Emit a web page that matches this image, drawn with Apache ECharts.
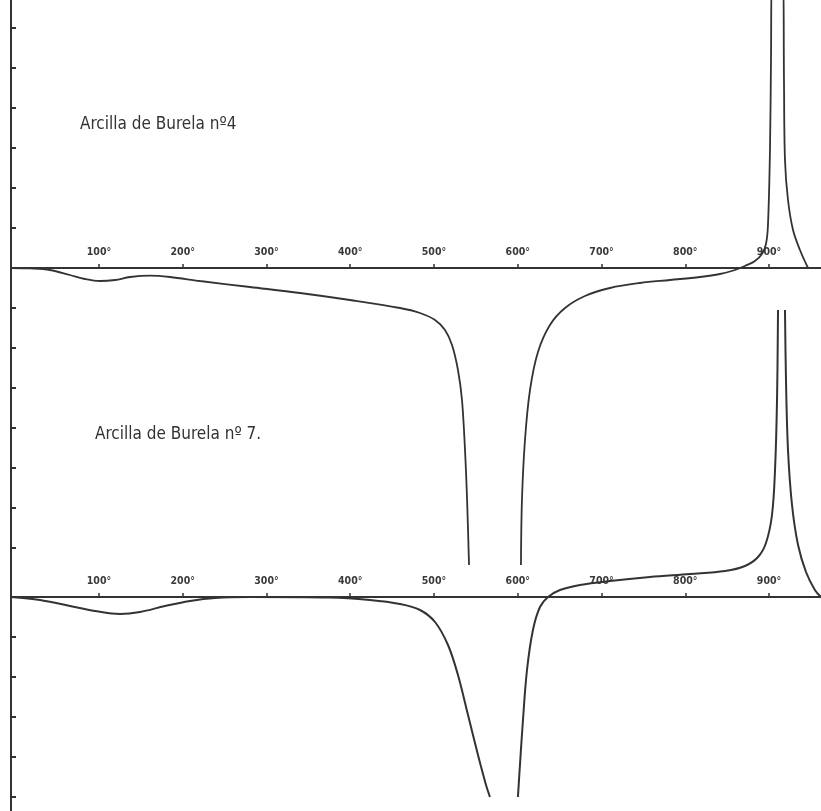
<!DOCTYPE html>
<html>
<head>
<meta charset="utf-8">
<script src="https://cdn.jsdelivr.net/npm/echarts@6/dist/echarts.min.js"></script>
<style>html,body{margin:0;padding:0;background:#fff}#c{width:821px;height:811px}</style>
</head>
<body>
<div id="c"></div>
<script>
// Temperature ticks (°C)
var tempTicks = [100, 200, 300, 400, 500, 600, 700, 800, 900];
// Left-axis ticks (arbitrary deflection units)
var topYTicks = [-7, -6, -5, -4, -3, -2, -1, 1, 2, 3, 4, 5, 6];
var bottomYTicks = [-5, -4, -3, -2, -1];

var titleTop = 'Arcilla de Burela nº4';
var titleBottom = 'Arcilla de Burela nº 7.';

// Curve 1: Arcilla de Burela nº4  [temperature, deflection]
var curve4a = [
  [-5, 0], [17.7, -0.01], [41.6, -0.05], [65.4, -0.175], [83.3, -0.275], [101.2, -0.325],
  [119.2, -0.3], [137.1, -0.225], [161, -0.19], [184.8, -0.225], [220.6, -0.325],
  [280.3, -0.475], [340, -0.625], [399.7, -0.8], [459.4, -1.0], [483.3, -1.125],
  [501.2, -1.3], [513.1, -1.55], [521.5, -1.925], [528.6, -2.55], [533.4, -3.3],
  [537, -4.55], [539.5, -5.8], [541.8, -7.425]
];
var curve4b = [
  [603.8, -7.425], [605, -5.8], [608.6, -4.3], [614.6, -3.05], [624.1, -2.1],
  [638.4, -1.425], [656.4, -1.0], [680.2, -0.7], [710.1, -0.5], [745.9, -0.375],
  [781.7, -0.3], [817.5, -0.225], [841.4, -0.15], [859.3, -0.05], [871.2, 0.05],
  [883.2, 0.175], [891.5, 0.35], [896.3, 0.6], [898.7, 1.075], [901.1, 2.95],
  [902.3, 5.2], [903.5, 7.4], [916.6, 7.4], [917.8, 4.7], [919, 2.7], [922.6, 1.7],
  [928.6, 0.95], [936.9, 0.45], [946.5, 0]
];
// Curve 2: Arcilla de Burela nº 7
var curve7a = [
  [-5, 0], [29.6, -0.075], [65.4, -0.225], [95.3, -0.35], [125.1, -0.425], [149, -0.375],
  [178.8, -0.225], [208.7, -0.1], [238.5, -0.025], [280.3, 0], [375.8, -0.0125],
  [423.6, -0.075], [459.4, -0.175], [483.3, -0.325], [501.2, -0.625], [516.7, -1.2],
  [528.6, -1.95], [540.6, -2.95], [552.5, -3.95], [562.1, -4.7], [566.8, -5.0]
];
var curve7b = [
  [600.2, -5.0], [602.6, -4.2], [606.2, -3.075], [611, -1.825], [618.1, -0.825],
  [626.5, -0.25], [636.1, 0], [650.4, 0.175], [674.3, 0.3], [710.1, 0.4], [757.8, 0.5],
  [805.6, 0.575], [847.4, 0.65], [871.2, 0.775], [886.8, 1.0], [896.3, 1.35],
  [903.5, 2.05], [907.1, 3.175], [909.5, 4.925], [910.7, 7.175]
];
var curve7c = [
  [919, 7.175], [920.2, 5.425], [922.6, 3.675], [927.4, 2.3], [934.6, 1.3],
  [944.1, 0.625], [954.7, 0.175], [962, 0]
];

var ink = '#333333';
var H = 811, base1 = 268, base2 = 597, unit = 40;
var titleFont = "'DejaVu Sans Condensed', 'Liberation Sans Narrow', 'DejaVu Sans', sans-serif";
var chart = echarts.init(document.getElementById('c'), null, {renderer: 'canvas'});

function xCurve(idx) {
  return {gridIndex: idx, type: 'value', min: -5, max: 962, show: false};
}
function xBase(idx) {
  return {
    gridIndex: idx, type: 'value', min: -5, max: 962, position: 'bottom',
    axisLine: {show: true, onZero: false, lineStyle: {color: ink, width: 2}},
    axisTick: {show: true, inside: true, length: 4, customValues: tempTicks, lineStyle: {color: ink, width: 1.5}},
    axisLabel: {show: true, inside: true, margin: 10, customValues: tempTicks,
      formatter: function (v) { return v + '°'; },
      color: '#3a3a3a', fontSize: 10.5, fontWeight: 'bold', fontFamily: titleFont},
    splitLine: {show: false}
  };
}
function yAx(idx, min, max, ticks, showLine) {
  return {
    gridIndex: idx, type: 'value', min: min, max: max,
    axisLine: {show: showLine, onZero: false, lineStyle: {color: ink, width: 2}},
    axisTick: {show: ticks.length > 0, inside: true, length: 5, customValues: ticks, lineStyle: {color: ink, width: 2}},
    axisLabel: {show: false},
    splitLine: {show: false}
  };
}
function seg(data, xi, w) {
  return {
    type: 'line', xAxisIndex: xi, yAxisIndex: xi, data: data, showSymbol: false,
    smooth: 0.35, clip: true, silent: true,
    lineStyle: {color: ink, width: w}
  };
}

chart.setOption({
  backgroundColor: '#fff',
  animation: false,
  title: [
    {text: titleTop, left: 75, top: 111, textStyle: {color: '#333', fontSize: 17, fontWeight: 'normal', fontFamily: titleFont}},
    {text: titleBottom, left: 90, top: 421, textStyle: {color: '#333', fontSize: 17, fontWeight: 'normal', fontFamily: titleFont}}
  ],
  grid: [
    {left: 11, right: 0, top: 0, bottom: 0},
    {left: 11, right: 0, top: 0, bottom: 0},
    {left: 11, right: 0, top: 0, bottom: H - base1},
    {left: 11, right: 0, top: 0, bottom: H - base2}
  ],
  xAxis: [xCurve(0), xCurve(1), xBase(2), xBase(3)],
  yAxis: [
    yAx(0, -(H - base1) / unit, base1 / unit, topYTicks, true),
    yAx(1, -(H - base2) / unit, base2 / unit, bottomYTicks, false),
    {gridIndex: 2, type: 'value', show: false},
    {gridIndex: 3, type: 'value', show: false}
  ],
  series: [
    seg(curve4a, 0, 1.8), seg(curve4b, 0, 1.8),
    seg(curve7a, 1, 2), seg(curve7b, 1, 2), seg(curve7c, 1, 2)
  ]
});
</script>
</body>
</html>
